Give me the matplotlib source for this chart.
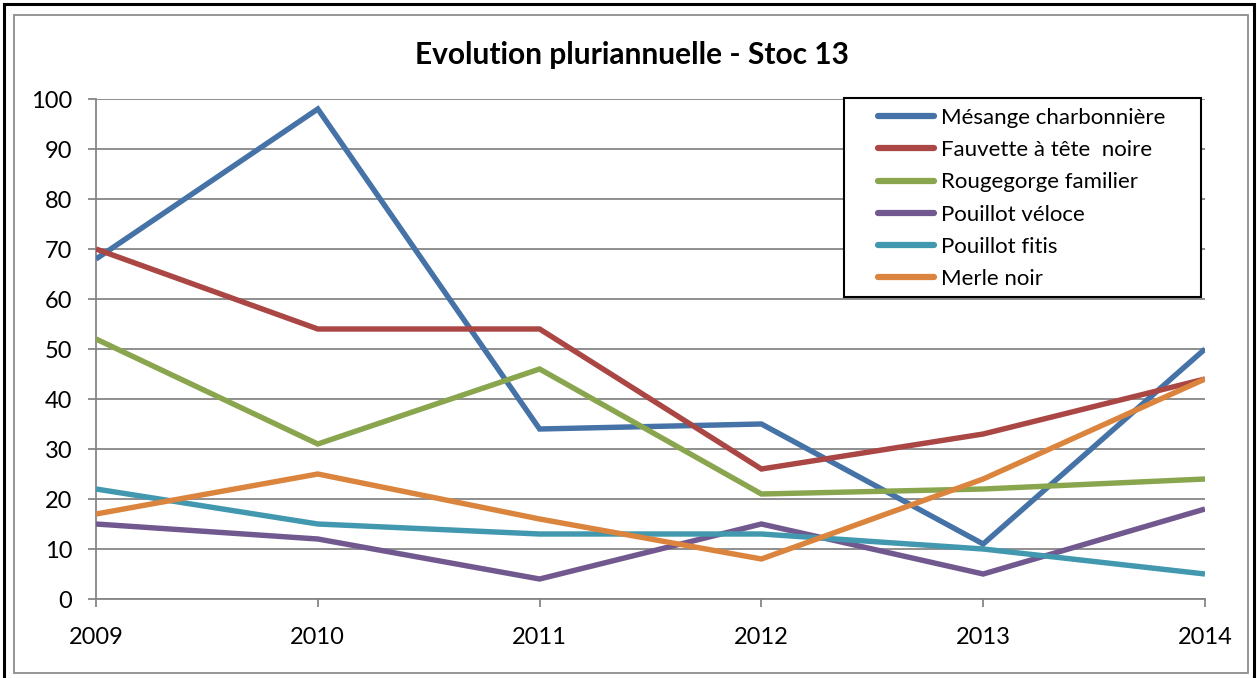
import matplotlib
matplotlib.use("Agg")
import matplotlib.pyplot as plt
from matplotlib.patches import Rectangle

plt.rcParams['font.family'] = ['Lato', 'DejaVu Sans']

# data
years = [2009, 2010, 2011, 2012, 2013, 2014]
mesange = [68, 98, 34, 35, 11, 50]
fauvette = [70, 54, 54, 26, 33, 44]
rougegorge = [52, 31, 46, 21, 22, 24]
pouillot_veloce = [15, 12, 4, 15, 5, 18]
pouillot_fitis = [22, 15, 13, 13, 10, 5]
merle = [17, 25, 16, 8, 24, 44]

names = ["Mésange charbonnière", "Fauvette à tête  noire", "Rougegorge familier",
         "Pouillot véloce", "Pouillot fitis", "Merle noir"]
colors = ["#4572A7", "#AA4643", "#89A54E", "#71588F", "#4198AF", "#DB843D"]

W, H = 1257, 678
fig = plt.figure(figsize=(W / 100, H / 100), dpi=100)
ax = fig.add_axes([96 / W, 1 - 599 / H, (1205 - 96) / W, (599 - 99) / H])

series = [mesange, fauvette, rougegorge, pouillot_veloce, pouillot_fitis, merle]
for vals, name, c in zip(series, names, colors):
    ax.plot(years, vals, color=c, lw=3.9, label=name, solid_capstyle='butt',
            solid_joinstyle='miter', zorder=3)

ax.set_xlim(2009, 2014)
ax.set_ylim(0, 100)
ax.set_yticks(range(0, 101, 10))
ax.set_xticks(years)
ax.grid(axis='y', color='#868686', lw=1.3, zorder=1)
for s in ['top', 'right']:
    ax.spines[s].set_visible(False)
for s in ['left', 'bottom']:
    ax.spines[s].set_color('#868686')
    ax.spines[s].set_linewidth(1.3)
ax.tick_params(axis='y', length=6, width=1.3, color='#868686', pad=11, labelsize=17)
ax.tick_params(axis='x', length=6, width=1.3, color='#868686', pad=14, labelsize=17)

# legend box drawn inside the axes, entries on top of it
box = Rectangle((844 / W, 1 - 297 / H), (1201 - 844) / W, (297 - 98) / H,
                transform=fig.transFigure, facecolor='white',
                edgecolor='black', lw=1.5, zorder=4, clip_on=False)
ax.add_patch(box)
leg = ax.legend(loc='upper left', bbox_to_anchor=(878 / W, 1 - 108 / H),
                bbox_transform=fig.transFigure, fontsize=16, frameon=False,
                handlelength=2.5, handletextpad=0.32, labelspacing=0.55,
                borderpad=0, borderaxespad=0)
leg.set_zorder(5)
for l in leg.get_lines():
    l.set_linewidth(4.5)
    l.set_solid_capstyle('round')

fig.text(632 / W, 1 - 55 / H, "Evolution pluriannuelle - Stoc 13", ha='center',
         va='center', fontsize=21.5, fontweight='bold')

# chart borders
fig.add_artist(Rectangle((4 / W, -0.01), (1254 - 4) / W, 1 - 4 / H + 0.01,
                         transform=fig.transFigure, fill=False,
                         edgecolor='black', lw=2.2))
fig.add_artist(Rectangle((14 / W, 1 - 673 / H), (1248 - 14) / W, (673 - 15) / H,
                         transform=fig.transFigure, fill=False,
                         edgecolor='#8c8c8c', lw=1.3))

fig.savefig("out.png", dpi=100)
